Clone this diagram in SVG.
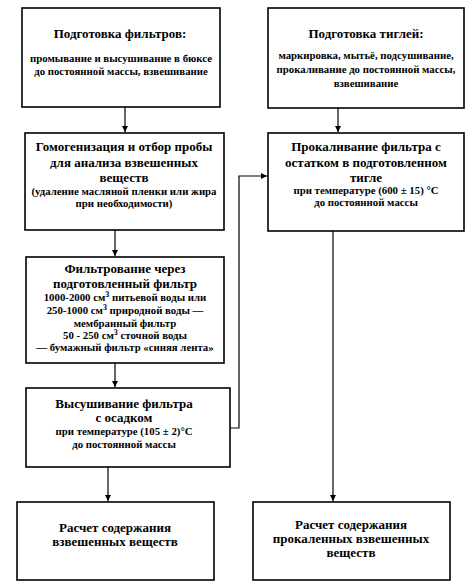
<svg xmlns="http://www.w3.org/2000/svg" width="476" height="588" viewBox="0 0 476 588">
<style>
.box{fill:#fff;stroke:#000;stroke-width:1.6}
.t{font-family:"Liberation Serif","Times New Roman",serif;font-weight:bold;font-size:13px;text-anchor:middle;fill:#000}
.s{font-family:"Liberation Serif","Times New Roman",serif;font-weight:bold;font-size:10.8px;text-anchor:middle;fill:#000}
.c{fill:none;stroke:#000;stroke-width:1.2}
</style>
<defs>
<marker id="ah" viewBox="0 0 8 8" refX="8" refY="4" markerWidth="6" markerHeight="6" markerUnits="userSpaceOnUse" orient="auto">
<path d="M0,0 L8,4 L0,8 z" fill="#000"/>
</marker>
</defs>
<rect width="476" height="588" fill="#fff"/>
<g id="connectors">
<path class="c" d="M125,107 V132" marker-end="url(#ah)"/>
<path class="c" d="M338,108 V132" marker-end="url(#ah)"/>
<path class="c" d="M115,230 V256" marker-end="url(#ah)"/>
<path class="c" d="M115,363 V387" marker-end="url(#ah)"/>
<path class="c" d="M230,428 H239 V176 H267" marker-end="url(#ah)"/>
<path class="c" d="M108,467 V501" marker-end="url(#ah)"/>
<path class="c" d="M333,231 V501" marker-end="url(#ah)"/>
</g>
<g id="n1">
<rect class="box" x="22" y="8" width="198" height="99"/>
<text class="t" x="120" y="38">Подготовка фильтров:</text>
<text class="s" x="121" y="62">промывание и высушивание в бюксе</text>
<text class="s" x="121" y="75">до постоянной массы, взвешивание</text>
</g>
<g id="n2">
<rect class="box" x="268" y="8" width="196" height="100"/>
<text class="t" x="366" y="38">Подготовка тиглей:</text>
<text class="s" x="366" y="59">маркировка, мытьё, подсушивание,</text>
<text class="s" x="366" y="73">прокаливание до постоянной массы,</text>
<text class="s" x="366" y="87">взвешивание</text>
</g>
<g id="n3">
<rect class="box" x="25" y="133" width="199" height="97"/>
<text class="t" x="124" y="151">Гомогенизация и отбор пробы</text>
<text class="t" x="124" y="167">для анализа взвешенных</text>
<text class="t" x="124" y="182">веществ</text>
<text class="s" x="124" y="195">(удаление масляной пленки или жира</text>
<text class="s" x="124" y="207">при необходимости)</text>
</g>
<g id="n4">
<rect class="box" x="268" y="133" width="196" height="98"/>
<text class="t" x="366" y="151">Прокаливание фильтра с</text>
<text class="t" x="366" y="167">остатком в подготовленном</text>
<text class="t" x="366" y="182">тигле</text>
<text class="s" x="366" y="194">при температуре (600 ± 15) °С</text>
<text class="s" x="366" y="206">до постоянной массы</text>
</g>
<g id="n5">
<rect class="box" x="26" y="257" width="198" height="106"/>
<text class="t" x="125" y="273">Фильтрование через</text>
<text class="t" x="125" y="288">подготовленный фильтр</text>
<text class="s" x="125" y="301">1000-2000 см<tspan dy="-4" font-size="8">3</tspan><tspan dy="4"> питьевой воды или</tspan></text>
<text class="s" x="125" y="314">250-1000 см<tspan dy="-4" font-size="8">3</tspan><tspan dy="4"> природной воды —</tspan></text>
<text class="s" x="125" y="327">мембранный фильтр</text>
<text class="s" x="125" y="339">50 - 250 см<tspan dy="-4" font-size="8">3</tspan><tspan dy="4"> сточной воды</tspan></text>
<text class="s" x="125" y="351">— бумажный фильтр «синяя лента»</text>
</g>
<g id="n6">
<rect class="box" x="26" y="388" width="204" height="79"/>
<text class="t" x="124" y="408">Высушивание фильтра</text>
<text class="t" x="124" y="422">с осадком</text>
<text class="s" x="124" y="435">при температуре (105 ± 2)°С</text>
<text class="s" x="124" y="448">до постоянной массы</text>
</g>
<g id="n7">
<rect class="box" x="17" y="502" width="197" height="78"/>
<text class="t" x="115" y="532">Расчет содержания</text>
<text class="t" x="115" y="546">взвешенных веществ</text>
</g>
<g id="n8">
<rect class="box" x="253" y="502" width="197" height="78"/>
<text class="t" x="351" y="529">Расчет содержания</text>
<text class="t" x="351" y="543">прокаленных взвешенных</text>
<text class="t" x="351" y="557">веществ</text>
</g>
</svg>
